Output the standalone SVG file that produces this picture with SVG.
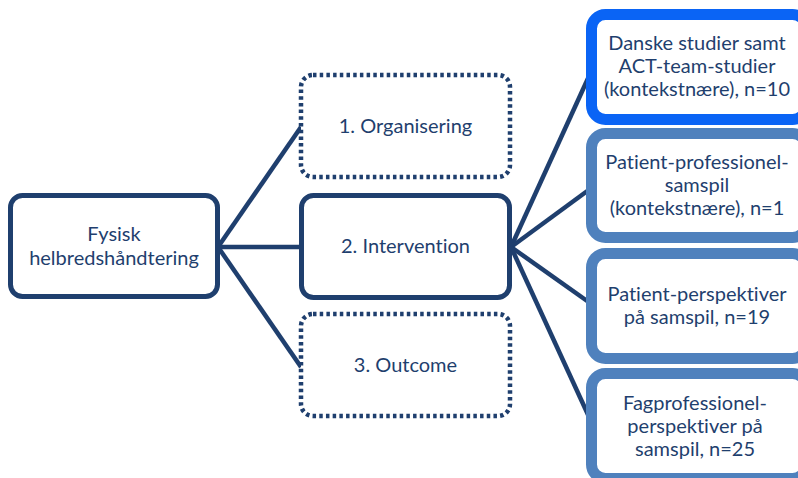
<svg xmlns="http://www.w3.org/2000/svg" width="798" height="478" viewBox="0 0 798 478">
<style>
.t{font-family:Lato,"Open Sans","Liberation Sans",sans-serif;font-size:20px;fill:#1f3f6e;text-anchor:middle;font-variant-ligatures:none}
.solid{fill:#fff;stroke:#1f3f6e;stroke-width:5}
.dot{fill:#fff;stroke:#1f3f6e;stroke-width:4.5;stroke-dasharray:3.5 3.2}
.rb{fill:#fff;stroke:#4f81bd;stroke-width:11}
.rb1{fill:#fff;stroke:#0a64f5;stroke-width:11}
.c{stroke:#1f3f6e;stroke-width:4.5;fill:none}
</style>
<rect width="798" height="478" fill="#fff"/>
<g id="connectors">
<line class="c" x1="218" y1="247" x2="301" y2="127"/>
<line class="c" x1="218" y1="247" x2="301" y2="247"/>
<line class="c" x1="218" y1="247" x2="301" y2="367"/>
<line class="c" x1="511" y1="247" x2="590" y2="74"/>
<line class="c" x1="511" y1="247" x2="590" y2="189"/>
<line class="c" x1="511" y1="247" x2="590" y2="303"/>
<line class="c" x1="511" y1="247" x2="590" y2="419"/>
</g>
<g id="n-fysisk">
<rect class="solid" x="10.5" y="195.5" width="207" height="101" rx="12"/>
<text class="t" x="114" y="241">Fysisk</text>
<text class="t" x="114" y="265">helbredshåndtering</text>
</g>
<g id="n-organisering">
<rect class="dot" x="301" y="75" width="209" height="102" rx="12"/>
<text class="t" x="405.5" y="133">1. Organisering</text>
</g>
<g id="n-intervention">
<rect class="solid" x="301.5" y="195.5" width="208" height="102" rx="12"/>
<text class="t" x="405.5" y="253">2. Intervention</text>
</g>
<g id="n-outcome">
<rect class="dot" x="301" y="314" width="209" height="102" rx="12"/>
<text class="t" x="405.5" y="372">3. Outcome</text>
</g>
<g id="n-danske">
<rect class="rb1" x="591.5" y="14.5" width="215" height="105" rx="14"/>
<text class="t" x="697" y="50">Danske studier samt</text>
<text class="t" x="697" y="73">ACT-team-studier</text>
<text class="t" x="697" y="96">(kontekstnære), n=10</text>
</g>
<g id="n-patient-prof">
<rect class="rb" x="591.5" y="133.5" width="215" height="104" rx="14"/>
<text class="t" x="697" y="169">Patient-professionel-</text>
<text class="t" x="697" y="192">samspil</text>
<text class="t" x="697" y="215">(kontekstnære), n=1</text>
</g>
<g id="n-patient-persp">
<rect class="rb" x="591.5" y="253.5" width="215" height="105" rx="14"/>
<text class="t" x="697" y="301">Patient-perspektiver</text>
<text class="t" x="697" y="324">på samspil, n=19</text>
</g>
<g id="n-fagprof">
<rect class="rb" x="591.5" y="373.5" width="215" height="105" rx="14"/>
<text class="t" x="695" y="410">Fagprofessionel-</text>
<text class="t" x="695" y="433">perspektiver på</text>
<text class="t" x="695" y="456">samspil, n=25</text>
</g>
</svg>
